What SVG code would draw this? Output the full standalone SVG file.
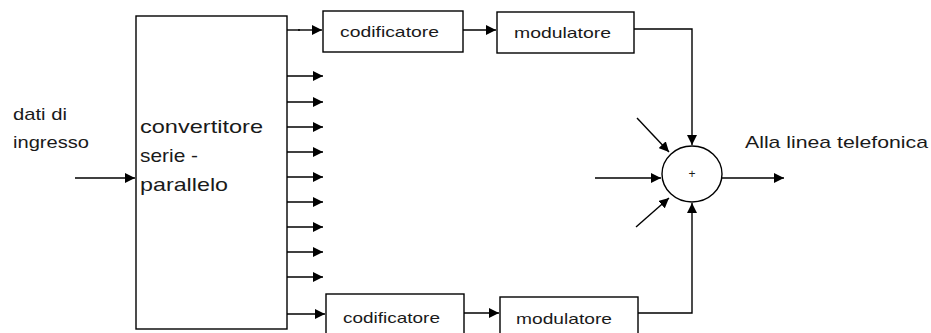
<svg xmlns="http://www.w3.org/2000/svg" width="931" height="333" viewBox="0 0 931 333">
<defs>
<marker id="ah" markerUnits="userSpaceOnUse" markerWidth="12" markerHeight="10" refX="10" refY="5" orient="auto">
<path d="M0,0 L10,5 L0,10 Z" fill="#000"/>
</marker>
<style>
.box{fill:#fff;stroke:#000;stroke-width:1.4}
.ln{fill:none;stroke:#000;stroke-width:1.4}
.ar{fill:none;stroke:#000;stroke-width:1.4;marker-end:url(#ah)}
.t{font-family:"Liberation Sans",Arial,sans-serif;fill:#1a1a1a}
</style>
</defs>
<rect width="931" height="333" fill="#fff"/>
<g id="input-label">
<text class="t" x="13" y="120" font-size="17" textLength="54" lengthAdjust="spacingAndGlyphs">dati di</text>
<text class="t" x="13" y="148" font-size="17" textLength="76" lengthAdjust="spacingAndGlyphs">ingresso</text>
</g>
<g id="converter">
<rect class="box" x="136" y="16" width="151" height="313"/>
<text class="t" x="140" y="133" font-size="19" textLength="123" lengthAdjust="spacingAndGlyphs">convertitore</text>
<text class="t" x="140" y="162" font-size="19" textLength="58" lengthAdjust="spacingAndGlyphs">serie -</text>
<text class="t" x="140" y="191" font-size="19" textLength="88" lengthAdjust="spacingAndGlyphs">parallelo</text>
</g>
<g id="cod1">
<rect class="box" x="323" y="11" width="140" height="41"/>
<text class="t" x="340" y="37" font-size="15" textLength="99" lengthAdjust="spacingAndGlyphs">codificatore</text>
</g>
<g id="mod1">
<rect class="box" x="497" y="12" width="137" height="41"/>
<text class="t" x="514" y="38" font-size="15" textLength="97" lengthAdjust="spacingAndGlyphs">modulatore</text>
</g>
<g id="cod2">
<rect class="box" x="326" y="294" width="138" height="42"/>
<text class="t" x="343" y="323" font-size="15" textLength="97" lengthAdjust="spacingAndGlyphs">codificatore</text>
</g>
<g id="mod2">
<rect class="box" x="500" y="297" width="138" height="40"/>
<text class="t" x="516" y="324" font-size="15" textLength="96" lengthAdjust="spacingAndGlyphs">modulatore</text>
</g>
<g id="adder">
<ellipse cx="692" cy="174" rx="30" ry="28" fill="#fff" stroke="#000" stroke-width="1.4"/>
<text class="t" x="692" y="178" font-size="12" text-anchor="middle" fill="#6b3a1f">+</text>
</g>
<g id="output-label">
<text class="t" x="745" y="148" font-size="17" textLength="183" lengthAdjust="spacingAndGlyphs">Alla linea telefonica</text>
</g>
<g id="connectors">
<line class="ar" x1="75" y1="178" x2="135" y2="178"/>
<line class="ln" x1="287" y1="30" x2="300" y2="30" stroke="#888"/>
<line class="ar" x1="298" y1="30" x2="322" y2="30"/>
<line class="ar" x1="463" y1="30" x2="496" y2="30"/>
<line class="ar" x1="287" y1="76" x2="323" y2="76"/>
<line class="ar" x1="287" y1="102" x2="323" y2="102"/>
<line class="ar" x1="287" y1="127" x2="323" y2="127"/>
<line class="ar" x1="287" y1="152" x2="323" y2="152"/>
<line class="ar" x1="287" y1="177" x2="323" y2="177"/>
<line class="ar" x1="287" y1="202" x2="323" y2="202"/>
<line class="ar" x1="287" y1="227" x2="323" y2="227"/>
<line class="ar" x1="287" y1="252" x2="323" y2="252"/>
<line class="ar" x1="287" y1="277" x2="323" y2="277"/>
<line class="ar" x1="287" y1="314" x2="325" y2="314"/>
<line class="ar" x1="464" y1="313" x2="499" y2="313"/>
<path class="ar" d="M634,29 H692 V145"/>
<path class="ar" d="M638,313 H692 V203"/>
<line class="ar" x1="595" y1="178" x2="661" y2="178"/>
<line class="ar" x1="637" y1="118" x2="669" y2="152"/>
<line class="ar" x1="636" y1="227" x2="669" y2="198"/>
<line class="ar" x1="722" y1="178" x2="784" y2="178"/>
</g>
</svg>
